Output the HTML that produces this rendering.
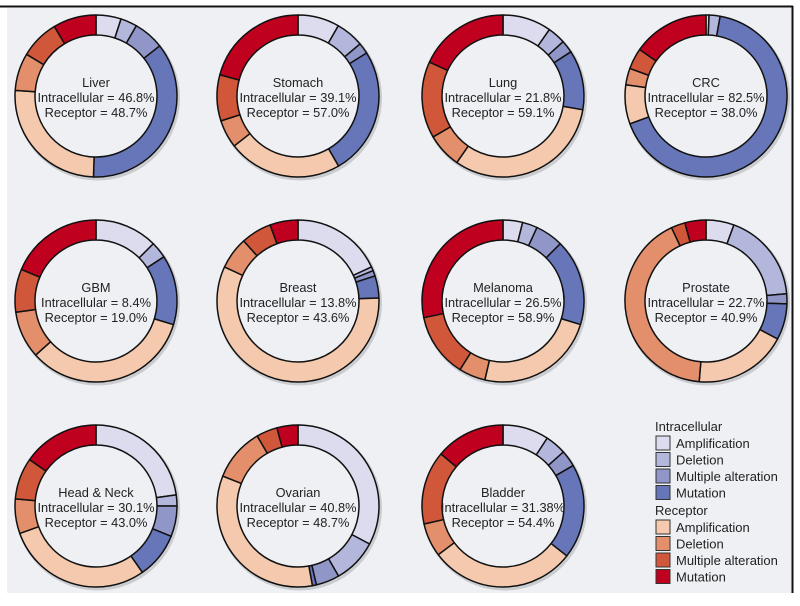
<!DOCTYPE html>
<html><head><meta charset="utf-8"><style>
html,body{margin:0;padding:0;background:#fff;}
body{width:800px;height:601px;position:relative;overflow:hidden;font-family:"Liberation Sans",sans-serif;}
</style></head><body>
<svg id="chart" width="800" height="601" viewBox="0 0 800 601" xmlns="http://www.w3.org/2000/svg">
<rect x="7" y="8" width="785" height="585" fill="#eef0f4"/>
<line x1="0" y1="6.5" x2="793" y2="6.5" stroke="#111" stroke-width="2"/>
<line x1="792.5" y1="6" x2="792.5" y2="593" stroke="#111" stroke-width="2"/>
<g id="donuts"></g>
<g id="legend"></g>
</svg>
<script>
const cancers = ["Liver","Stomach","Lung","CRC","GBM","Breast","Melanoma","Prostate","Head & Neck","Ovarian","Bladder"];
const intraPct = ["46.8%","39.1%","21.8%","82.5%","8.4%","13.8%","26.5%","22.7%","30.1%","40.8%","31.38%"];
const recepPct = ["48.7%","57.0%","59.1%","38.0%","19.0%","43.6%","58.9%","40.9%","43.0%","48.7%","54.4%"];
// segment shares (%): intra amp, del, mult, mut, receptor amp, del, mult, mut
const intraAmp = [5.0,8.3,9.7,0.6,12.5,18.1,3.9,5.6,22.8,32.8,9.2];
const intraDel = [3.3,5.6,3.6,2.2,3.3,0.8,3.0,18.0,2.2,8.9,4.2];
const intraMult= [6.1,2.2,2.5,0.0,0.0,1.1,5.6,2.0,6.1,4.7,3.3];
const intraMut = [36.1,25.6,11.9,66.7,13.9,4.4,17.2,7.2,9.2,0.8,18.9];
const recAmp   = [25.6,22.8,31.9,7.8,33.6,57.5,23.9,18.6,29.2,33.9,29.2];
const recDel   = [7.5,5.6,6.9,3.3,9.4,6.4,5.3,41.7,6.9,10.6,6.7];
const recMult  = [7.8,9.2,15.3,4.2,8.6,6.1,12.8,2.8,8.3,4.2,14.7];
const recMut   = [8.6,20.8,18.1,15.3,18.6,5.6,28.3,4.2,15.3,4.2,13.9];
const segNames = ["intracellular-amplification","intracellular-deletion","intracellular-multiple-alteration","intracellular-mutation","receptor-amplification","receptor-deletion","receptor-multiple-alteration","receptor-mutation"];
const colors = ["#dcdcee","#b4b7dc","#9096c8","#6676b8","#f4c9ae","#e38f6b","#d1573a","#c0001f"];
const legendLabels = ["Amplification","Deletion","Multiple alteration","Mutation"];

const NS="http://www.w3.org/2000/svg";
const colX=[96,298,503,706], rowY=[96,301,506];
const R=81, r=61;
function angle(frac){return frac*2*Math.PI;}
function pt(cx,cy,rad,a){return [cx+rad*Math.sin(a), cy-rad*Math.cos(a)];}
function arcPath(cx,cy,a0,a1){
  const large=(a1-a0)>Math.PI?1:0;
  const p1=pt(cx,cy,R,a0),p2=pt(cx,cy,R,a1),p3=pt(cx,cy,r,a1),p4=pt(cx,cy,r,a0);
  return `M${p1[0]},${p1[1]}A${R},${R} 0 ${large} 1 ${p2[0]},${p2[1]}L${p3[0]},${p3[1]}A${r},${r} 0 ${large} 0 ${p4[0]},${p4[1]}Z`;
}
const g=document.getElementById('donuts');
cancers.forEach((name,i)=>{
  const cx=colX[i%4], cy=rowY[Math.floor(i/4)];
  const vals=[intraAmp[i],intraDel[i],intraMult[i],intraMut[i],recAmp[i],recDel[i],recMult[i],recMut[i]];
  const total=vals.reduce((a,b)=>a+b,0);
  const dg=document.createElementNS(NS,'g');
  
  
  const sh=document.createElementNS(NS,'circle');
  sh.setAttribute('cx',cx+1.5);sh.setAttribute('cy',cy+2);sh.setAttribute('r',R);sh.setAttribute('fill','none');sh.setAttribute('stroke','rgba(0,0,0,0.15)');sh.setAttribute('stroke-width','3');
  
  
  dg.appendChild(sh);
  let acc=0;
  vals.forEach((v,k)=>{
    if(v<=0) return;
    const a0=angle(acc/total); acc+=v; const a1=angle(acc/total);
    const p=document.createElementNS(NS,'path');
    p.setAttribute('d',arcPath(cx,cy,a0,a1));
    p.setAttribute('fill',colors[k]);p.setAttribute('stroke','#111');p.setAttribute('stroke-width','1.5');p.setAttribute('stroke-linejoin','round');
    
    
    dg.appendChild(p);
  });
  const lines=[name,'Intracellular = '+intraPct[i],'Receptor = '+recepPct[i]];
  lines.forEach((t,j)=>{
    const tx=document.createElementNS(NS,'text');
    tx.setAttribute('x',cx);tx.setAttribute('y',cy-9+j*15);tx.setAttribute('text-anchor','middle');
    tx.setAttribute('font-size','12.8');tx.setAttribute('fill','#222');tx.setAttribute('font-family','Liberation Sans, sans-serif');
    tx.textContent=t;
    
    
    dg.appendChild(tx);
  });
  g.appendChild(dg);
});
const lg=document.getElementById('legend');
[["Intracellular",426,0],["Receptor",510,4]].forEach(([title,y0,off])=>{
  const t=document.createElementNS(NS,'text');
  t.setAttribute('x',655);t.setAttribute('y',y0+5);t.setAttribute('font-size','13');t.setAttribute('fill','#222');
  t.textContent=title;
  
  
  lg.appendChild(t);
  legendLabels.forEach((lab,k)=>{
    const y=y0+10+k*16.5;
    const rc=document.createElementNS(NS,'rect');
    rc.setAttribute('x',656);rc.setAttribute('y',y);rc.setAttribute('width',14);rc.setAttribute('height',14);
    rc.setAttribute('fill',colors[off+k]);rc.setAttribute('stroke','#333');rc.setAttribute('stroke-width','1');
    
    
    lg.appendChild(rc);
    const tx=document.createElementNS(NS,'text');
    tx.setAttribute('x',676);tx.setAttribute('y',y+12);tx.setAttribute('font-size','13');tx.setAttribute('fill','#222');
    tx.textContent=lab;
    
    
    lg.appendChild(tx);
  });
});
</script>
</body></html>
